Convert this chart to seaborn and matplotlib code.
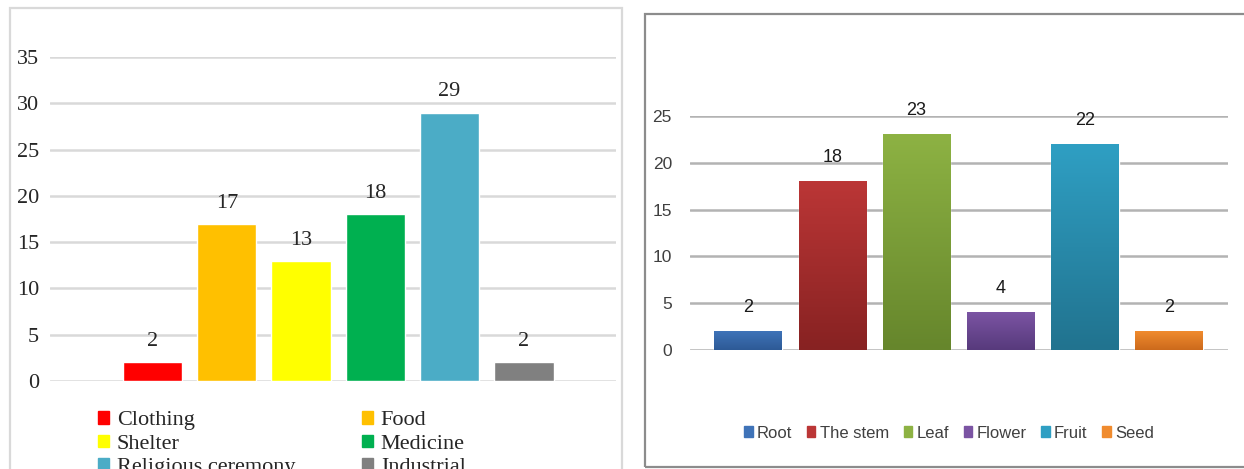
import numpy as np
import pandas as pd
import matplotlib
matplotlib.use("Agg")
import matplotlib.pyplot as plt
import seaborn as sns
from matplotlib.patches import Patch, Rectangle
from matplotlib.colors import LinearSegmentedColormap

# ---------- DATA ----------
uses = ["Clothing", "Food", "Shelter", "Medicine", "Religious ceremony", "Industrial"]
use_counts = [2, 17, 13, 18, 29, 2]
use_colors = ["#ff0000", "#ffc000", "#ffff00", "#00b050", "#4bacc6", "#808080"]

parts = ["Root", "The stem", "Leaf", "Flower", "Fruit", "Seed"]
part_counts = [2, 18, 23, 4, 22, 2]
part_top = ["#3f73b8", "#bb3636", "#8db243", "#7b54a3", "#2f9fc3", "#f08b2e"]
part_bottom = ["#2d5a96", "#872222", "#66862c", "#573a7c", "#21738f", "#cc6a1c"]

sns.set_style("white")
serif = ["Liberation Serif", "DejaVu Serif"]
sans = ["Liberation Sans", "DejaVu Sans"]

fig = plt.figure(figsize=(12.44, 4.69), dpi=100)

# panel frames
fig.add_artist(Rectangle((10 / 1244, -0.1), 612 / 1244, 1.1 - 8 / 469,
                         transform=fig.transFigure, fill=False,
                         edgecolor="#d9d9d9", lw=1.6))
fig.add_artist(Rectangle((645 / 1244, 1 - 467 / 469), 610 / 1244, 453 / 469,
                         transform=fig.transFigure, fill=False,
                         edgecolor="#8c8c8c", lw=1.6))

# ---------- LEFT: plant uses ----------
ax1 = fig.add_axes([50 / 1244, 1 - 381 / 469, 566 / 1244, 324 / 469])
df1 = pd.DataFrame({"use": uses, "count": use_counts})
sns.barplot(data=df1, x="use", y="count", hue="use", palette=use_colors,
            order=uses, hue_order=uses, width=0.8, legend=False, ax=ax1,
            saturation=1, zorder=3)
for c in ax1.containers:
    ax1.bar_label(c, padding=8, fontsize=16, family=serif)
ax1.set_xlim(-1.38, 6.24)
ax1.set_ylim(0, 35)
ax1.set_yticks(range(0, 36, 5))
ax1.set_xticks([])
ax1.set_xlabel("")
ax1.set_ylabel("")
ax1.grid(axis="y", color="#d9d9d9", lw=1.8, zorder=0)
ax1.tick_params(axis="y", length=0, pad=8, labelsize=16)
for t in ax1.get_yticklabels():
    t.set_family(serif)
for s in ax1.spines.values():
    s.set_visible(False)

h1 = [Patch(color=c) for c in use_colors]
idx = [0, 2, 4, 1, 3, 5]
fig.legend([h1[i] for i in idx], [uses[i] for i in idx], ncol=2,
           loc="upper left", bbox_to_anchor=(89 / 1244, 1 - 402 / 469),
           frameon=False, prop={"family": serif, "size": 16},
           handlelength=0.5, handleheight=0.5, handletextpad=0.35,
           labelspacing=0.2, columnspacing=3.0, borderaxespad=0)

# ---------- RIGHT: plant parts ----------
ax2 = fig.add_axes([690 / 1244, 1 - 350 / 469, 538 / 1244, 234 / 469])
df2 = pd.DataFrame({"part": parts, "count": part_counts})
sns.barplot(data=df2, x="part", y="count", hue="part", palette=part_top,
            order=parts, hue_order=parts, width=0.8, legend=False, ax=ax2,
            saturation=1, zorder=3)
grad = np.linspace(0, 1, 100).reshape(-1, 1)
for p, top, bot in zip(ax2.patches, part_top, part_bottom):
    cm = LinearSegmentedColormap.from_list("g", [bot, top])
    x0, w, h = p.get_x(), p.get_width(), p.get_height()
    ax2.imshow(grad, extent=(x0, x0 + w, 0, h), origin="lower", cmap=cm,
               aspect="auto", zorder=4)
for c in ax2.containers:
    ax2.bar_label(c, padding=11, fontsize=13, family=sans, color="#1a1a1a")
ax2.set_xlim(-0.69, 5.7)
ax2.set_ylim(0, 25)
ax2.set_yticks(range(0, 26, 5))
ax2.set_xticks([])
ax2.set_xlabel("")
ax2.set_ylabel("")
ax2.grid(axis="y", color="#b3b3b3", lw=1.8, zorder=0)
ax2.tick_params(axis="y", length=0, pad=13, labelsize=12.5, labelcolor="#404040")
for t in ax2.get_yticklabels():
    t.set_family(sans)
for s in ax2.spines.values():
    s.set_visible(False)

h2 = [Patch(color=c) for c in part_top]
fig.legend(h2, parts, ncol=6, loc="center", bbox_to_anchor=(949 / 1244, 1 - 433 / 469),
           frameon=False, prop={"family": sans, "size": 12},
           handlelength=0.5, handleheight=0.6, handletextpad=0.25,
           columnspacing=0.9, labelcolor="#404040", borderaxespad=0)

fig.savefig("out.png", dpi=100)
